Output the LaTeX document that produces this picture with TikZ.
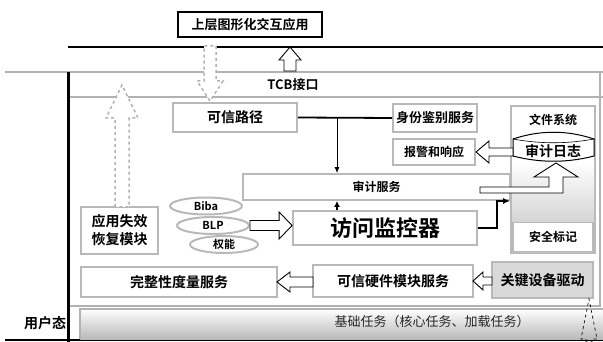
\documentclass[tikz,border=0pt]{standalone}
\usepackage{fontspec}
\setmainfont{Noto Sans CJK SC}[BoldFont={Noto Sans CJK SC Bold}]
\usetikzlibrary{calc,shapes.geometric,arrows.meta}
\newcommand\harrow[6][]{%
  \coordinate (hA) at (#2); \coordinate (hB) at (#3);
  \coordinate (hC) at ($(hB)!#6!(hA)$);
  \draw[#1] ($(hA)!#4!90:(hB)$) -- ($(hC)!#4!-90:(hA)$) -- ($(hC)!#5!-90:(hA)$) -- (hB)
    -- ($(hC)!#5!90:(hA)$) -- ($(hC)!#4!90:(hA)$) -- ($(hA)!#4!-90:(hB)$) -- cycle;}
\newcommand\fsz[1]{\fontsize{#1}{#1}\selectfont}
\tikzset{
  gbox/.style={draw=gray!55, line width=1.8pt, fill=white, inner sep=0pt, font=\bfseries\fsz{13}},
  ell/.style={ellipse, draw=gray!55, line width=2pt, fill=white, inner sep=0pt, minimum width=72pt, minimum height=17pt, font=\bfseries\fsz{11}},
  harr/.style={draw=black, line width=0.9pt, fill=white},
  darr/.style={draw=gray!60, line width=1.5pt, dashed, fill=white},
  lbl/.style={inner sep=0pt, font=\bfseries\fsz{13}},
}
\begin{document}
\begin{tikzpicture}[x=1pt,y=-1pt]
\useasboundingbox (0,0) rectangle (603,342);
% layer lines
\draw[line width=2pt] (68,47) -- (603,47);
\draw[gray!60, line width=2pt] (5,72) -- (603,72);
\draw[gray!60, line width=1.8pt] (68,97) -- (603,97);
\draw[gray!60, line width=1.5pt] (600,72) -- (600,306) -- (68,306);
\draw[line width=1.2pt] (5,340) -- (603,340);
\draw[line width=3pt] (68,72) -- (68,342);
% top app
\node[draw=black, line width=2.5pt, fill=white, minimum width=144pt, minimum height=25pt, inner sep=0pt, font=\bfseries\fsz{13}] (app) at (250,24.5) {上层图形化交互应用};
\node[lbl] (tcb) at (293,85) {TCB接口};
% bottom bar
\shade[top color=white, bottom color=gray!55] (80,309) rectangle (603,339);
\draw[gray!60, line width=1.2pt] (603,309) -- (80,309) -- (80,339);
\node[inner sep=0pt, font=\fsz{13}, text=gray!30!black] (base) at (432,322) {基础任务（核心任务、加载任务）};
\node[lbl, font=\bfseries\fsz{14}] (user) at (45,323) {用户态};
% boxes
\node[gbox, font=\bfseries\fsz{14}, minimum width=124pt, minimum height=29pt] (tp) at (235,117.5) {可信路径};
\node[gbox, minimum width=84pt, minimum height=28pt] (id) at (435,118) {身份鉴别服务};
\node[gbox, font=\bfseries\fsz{12}, minimum width=82pt, minimum height=26pt] (alarm) at (434,152) {报警和响应};
\node[gbox, font=\bfseries\fsz{12}, minimum width=267pt, minimum height=26pt] (audit) at (376.5,187) {审计服务};
\node[gbox, font=\bfseries\fsz{22}, minimum width=184pt, minimum height=34pt] (mon) at (385,228) {访问监控器};
\node[gbox, font=\bfseries\fsz{14}, minimum width=77pt, minimum height=47pt, align=center] (rec) at (119.5,230.5) {应用失效\\[4pt]恢复模块};
\node[gbox, font=\bfseries\fsz{14}, minimum width=196pt, minimum height=30pt] (im) at (179,282) {完整性度量服务};
\node[gbox, font=\bfseries\fsz{14}, minimum width=160pt, minimum height=32pt] (hw) at (393,281) {可信硬件模块服务};
\node[gbox, fill=gray!30, font=\bfseries\fsz{14}, minimum width=101pt, minimum height=36pt] (drv) at (542.5,280) {关键设备驱动};
% file system container
\node[draw=gray!55, line width=1.8pt, fill=white, minimum width=84pt, minimum height=147pt, inner sep=0pt] (fs) at (553,179.5) {};
\shade[top color=white, bottom color=gray!50] (512,162) rectangle (594,252);
\node[lbl, font=\bfseries\fsz{12}] (fst) at (553,120) {文件系统};
\node[gbox, font=\bfseries\fsz{12}, minimum width=80pt, minimum height=29pt] (mark) at (553,237) {安全标记};
\draw[fill=white, line width=1pt] (513,139) .. controls (540,130) and (567,130) .. (594,139) -- (594,156) .. controls (567,163) and (540,163) .. (513,156) -- cycle;
\draw[line width=0.6pt] (513,139) .. controls (540,144) and (567,144) .. (594,139);
\node[lbl, font=\bfseries\fsz{14}] (log) at (553,151) {审计日志};
% ellipses
\node[ell] (biba) at (206,206) {Biba};
\node[ell] (blp) at (213,225.5) {BLP};
\node[ell, minimum width=68pt] (cap) at (224,244.5) {权能};
% connectors
\draw[line width=1.8pt] (tp.east) -- (id.west);
\coordinate (j) at (337,118);
\draw[line width=1pt, -{Latex[length=6pt,width=5pt]}] (j) -- (j |- audit.north);
\draw[line width=1.5pt, -{Latex[length=6pt,width=6pt]}] (mon.north -| j) -- (audit.south -| j);
\coordinate (bend) at (497,201);
\draw[line width=1.5pt, -{Latex[length=7pt,width=6pt]}] (mon.east) -| (bend) -- (bend -| fs.west);
% hollow arrows
\coordinate (ta) at (210,46); \coordinate (tb) at (210,101);
\harrow[darr]{ta}{tb}{6pt}{13pt}{20pt}
\draw[harr] (284,71) -- (284,60) -- (279,60) -- (290,47) -- (301,60) -- (296,60) -- (296,71) -- cycle;
\coordinate (la) at (122,207); \coordinate (lb) at (122,85);
\harrow[darr]{la}{lb}{7pt}{16pt}{33pt}
\coordinate (ga) at (513,152); \coordinate (gb) at (476,152);
\harrow[harr]{ga}{gb}{4pt}{11pt}{13pt}
\harrow[harr]{blp.east}{mon.west |- blp.east}{5pt}{13.5pt}{13pt}
\coordinate (ha) at (313,282); \coordinate (hb) at (277,282);
\harrow[harr]{ha}{hb}{5pt}{10pt}{13pt}
\coordinate (da) at (492,281); \coordinate (db) at (473,281);
\harrow[harr]{da}{db}{4pt}{9pt}{10pt}
\coordinate (ka) at (589,342); \coordinate (kb) at (589,299);
\harrow[draw=black, line width=0.6pt, dashed]{ka}{kb}{3pt}{8pt}{40pt}
% bent arrow audit -> log
\draw[harr] (480,187) -- (549,187) -- (549,177) -- (534,177) -- (556,163) -- (578,177) -- (563,177) -- (563,193) -- (480,193) -- cycle;
\end{tikzpicture}
\end{document}
